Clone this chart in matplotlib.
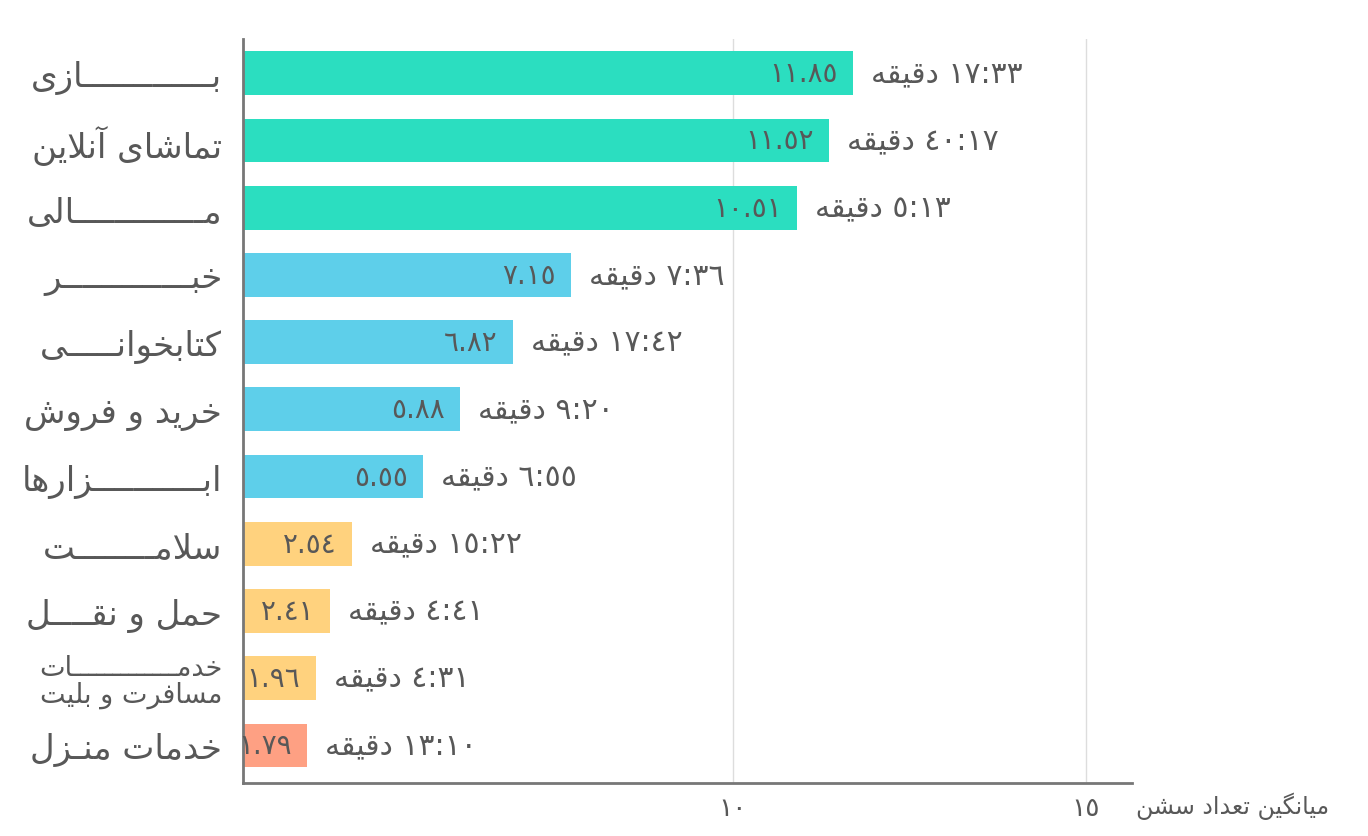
import matplotlib
matplotlib.use("Agg")
import matplotlib.pyplot as plt

# ---------------------------------------------------------------
# minimal Persian shaping (matplotlib has no complex text layout)
# forms: (isolated, final, initial, medial)
# ---------------------------------------------------------------
FORMS = {
    "ا": ("\uFE8D", "\uFE8E", None, None),
    "آ": ("\uFE81", "\uFE82", None, None),
    "ب": ("\uFE8F", "\uFE90", "\uFE91", "\uFE92"),
    "پ": ("\uFB56", "\uFB57", "\uFB58", "\uFB59"),
    "ت": ("\uFE95", "\uFE96", "\uFE97", "\uFE98"),
    "ث": ("\uFE99", "\uFE9A", "\uFE9B", "\uFE9C"),
    "ج": ("\uFE9D", "\uFE9E", "\uFE9F", "\uFEA0"),
    "ح": ("\uFEA1", "\uFEA2", "\uFEA3", "\uFEA4"),
    "خ": ("\uFEA5", "\uFEA6", "\uFEA7", "\uFEA8"),
    "د": ("\uFEA9", "\uFEAA", None, None),
    "ذ": ("\uFEAB", "\uFEAC", None, None),
    "ر": ("\uFEAD", "\uFEAE", None, None),
    "ز": ("\uFEAF", "\uFEB0", None, None),
    "ژ": ("\uFB8A", "\uFB8B", None, None),
    "س": ("\uFEB1", "\uFEB2", "\uFEB3", "\uFEB4"),
    "ش": ("\uFEB5", "\uFEB6", "\uFEB7", "\uFEB8"),
    "ع": ("\uFEC9", "\uFECA", "\uFECB", "\uFECC"),
    "ف": ("\uFED1", "\uFED2", "\uFED3", "\uFED4"),
    "ق": ("\uFED5", "\uFED6", "\uFED7", "\uFED8"),
    "ک": ("\uFB8E", "\uFB8F", "\uFB90", "\uFB91"),
    "گ": ("\uFB92", "\uFB93", "\uFB94", "\uFB95"),
    "ل": ("\uFEDD", "\uFEDE", "\uFEDF", "\uFEE0"),
    "م": ("\uFEE1", "\uFEE2", "\uFEE3", "\uFEE4"),
    "ن": ("\uFEE5", "\uFEE6", "\uFEE7", "\uFEE8"),
    "ه": ("\uFEE9", "\uFEEA", "\uFEEB", "\uFEEC"),
    "و": ("\uFEED", "\uFEEE", None, None),
    "ی": ("\uFBFC", "\uFBFD", "\uFBFE", "\uFBFF"),
    "LA": ("\uFEFB", "\uFEFC", None, None),
    "LAA": ("\uFEF5", "\uFEF6", None, None),
}
TATWEEL = "\u0640"


def joins_next(c):
    return c == TATWEEL or (c in FORMS and FORMS[c][2] is not None)


def joins_prev(c):
    return c == TATWEEL or c in FORMS


def fa(text):
    seq = []
    i = 0
    while i < len(text):
        if text[i] == "ل" and i + 1 < len(text) and text[i + 1] in "اآ":
            seq.append("LA" if text[i + 1] == "ا" else "LAA")
            i += 2
        else:
            seq.append(text[i])
            i += 1
    out = []
    for i, c in enumerate(seq):
        if c not in FORMS:
            out.append(c)
            continue
        prev = seq[i - 1] if i > 0 else None
        nxt = seq[i + 1] if i + 1 < len(seq) else None
        jp = prev is not None and joins_next(prev)
        jn = nxt is not None and joins_next(c) and joins_prev(nxt)
        iso, fin, ini, med = FORMS[c]
        if jp and jn:
            out.append(med)
        elif jp:
            out.append(fin)
        elif jn:
            out.append(ini)
        else:
            out.append(iso)
    return "".join(out)[::-1]


DIG = str.maketrans("0123456789", "٠١٢٣٤٥٦٧٨٩")


def ar_num(s):
    return s.translate(DIG)


# ---------------------------------------------------------------
# data
# ---------------------------------------------------------------
categories = [
    "بـــــــــــــازی",
    "تماشای آنلاین",
    "مـــــــــــــالی",
    "خبـــــــــــــر",
    "کتابخوانـــــی",
    "خرید و فروش",
    "ابـــــــــــزارها",
    "سلامــــــــت",
    "حمل و نقــــل",
    "خدمـــــــــــــات\nمسافرت و بلیت",
    "خدمات منـزل",
]
sessions = ["11.85", "11.52", "10.51", "7.15", "6.82", "5.88", "5.55", "2.54", "2.41", "1.96", "1.79"]
durations = ["17:33", "40:17", "5:13", "7:36", "17:42", "9:20", "6:55", "15:22", "4:41", "4:31", "13:10"]
bar_end = [11.70, 11.36, 10.91, 7.71, 6.88, 6.13, 5.61, 4.60, 4.29, 4.09, 3.97]
groups = ["top", "top", "top", "mid", "mid", "mid", "mid", "low", "low", "low", "min"]

xticks = [10, 15]
x_min, x_max = 3.06, 15.65

COLORS = {"top": "#2BDEC0", "mid": "#5ECFEA", "low": "#FFD27E", "min": "#FEA083"}
TEXT = "#585858"
AXIS = "#777777"
GRID = "#DDDDDD"

plt.rcParams["font.family"] = ["DejaVu Sans"]

fig = plt.figure(figsize=(13.68, 8.37), dpi=100)
ax = fig.add_axes([243 / 1368, 1 - 784 / 837, (1132 - 243) / 1368, (784 - 40) / 837])

y = list(range(len(categories)))
widths = [e - x_min for e in bar_end]
bars = ax.barh(y, widths, left=x_min, height=0.65,
               color=[COLORS[g] for g in groups], zorder=2)

for yi, end, val, dur in zip(y, bar_end, sessions, durations):
    ax.annotate(ar_num(val), xy=(end, yi), xytext=(-11, 0), textcoords="offset points",
                ha="right", va="center", fontsize=20, color=TEXT, zorder=3)
    ax.annotate(fa("دقیقه") + " " + ar_num(dur), xy=(end, yi), xytext=(13, 0),
                textcoords="offset points", ha="left", va="center",
                fontsize=21.5, color=TEXT, zorder=3)

ax.set_xlim(x_min, x_max)
ax.set_ylim(len(categories) - 0.44, -0.51)

ax.set_yticks(y)
labels = []
for c in categories:
    labels.append("\n".join(fa(part) for part in c.split("\n")))
ax.set_yticklabels(labels, color=TEXT)
for lab, c in zip(ax.get_yticklabels(), categories):
    lab.set_fontsize(19.5 if "\n" in c else 24.5)
    lab.set_horizontalalignment("right")
    lab.set_multialignment("right")
    if "\n" in c:
        lab.set_linespacing(1.0)
ax.tick_params(axis="y", length=0, pad=15)

ax.set_xticks(xticks)
ax.set_xticklabels([ar_num(str(t)) for t in xticks], fontsize=19, color=TEXT)
ax.tick_params(axis="x", length=0, pad=9)

ax.grid(axis="x", color=GRID, lw=1, zorder=0)
ax.set_axisbelow(True)
for s in ["top", "right"]:
    ax.spines[s].set_visible(False)
for s in ["left", "bottom"]:
    ax.spines[s].set_color(AXIS)
    ax.spines[s].set_linewidth(2)

fig.text(1136 / 1368, 1 - 806 / 837, fa("میانگین تعداد سشن"), ha="left", va="center",
         fontsize=17, color=TEXT)

fig.savefig("out.png", dpi=100, facecolor="white")
